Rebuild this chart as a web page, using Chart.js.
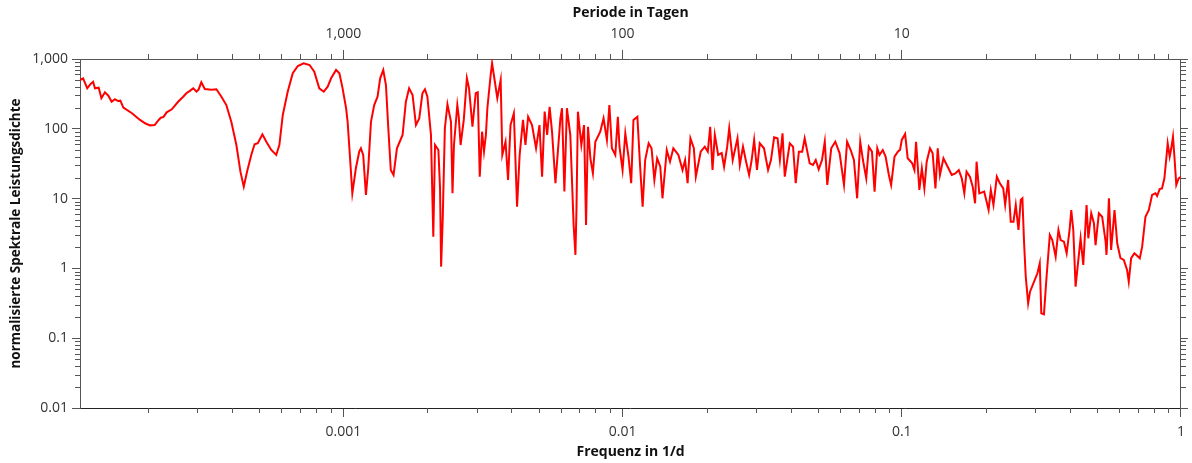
<!DOCTYPE html>
<html>
<head>
<meta charset="utf-8">
<script src="https://cdn.jsdelivr.net/npm/chart.js@4"></script>
<style>
  html, body { margin: 0; padding: 0; background: #fff; }
  #wrap { width: 1192px; height: 463px; }
</style>
</head>
<body>
<div id="wrap"><canvas id="spectrum" width="1192" height="463"></canvas></div>
<script>
// frequency in 1/d
const frequency = [
  1.14e-4, 1.17e-4, 1.21e-4, 1.24e-4, 1.27e-4, 1.29e-4, 1.33e-4, 1.36e-4, 1.40e-4, 1.44e-4,
  1.48e-4, 1.52e-4, 1.56e-4, 1.59e-4, 1.63e-4, 1.75e-4, 1.87e-4, 1.95e-4, 2.03e-4, 2.11e-4,
  2.17e-4, 2.22e-4, 2.27e-4, 2.33e-4, 2.43e-4, 2.56e-4, 2.67e-4, 2.74e-4, 2.82e-4, 2.90e-4,
  2.98e-4, 3.03e-4, 3.10e-4, 3.19e-4, 3.37e-4, 3.51e-4, 3.66e-4, 3.81e-4, 3.97e-4, 4.14e-4,
  4.28e-4, 4.40e-4, 4.52e-4, 4.68e-4, 4.81e-4, 4.94e-4, 5.13e-4, 5.30e-4, 5.52e-4, 5.75e-4,
  5.90e-4, 6.07e-4, 6.32e-4, 6.59e-4, 6.87e-4, 7.21e-4, 7.57e-4, 7.87e-4, 8.20e-4, 8.51e-4,
  8.79e-4, 9.04e-4, 9.42e-4, 9.68e-4, 9.94e-4, 1.023e-3, 1.036e-3, 1.059e-3, 1.077e-3, 1.109e-3,
  1.14e-3, 1.156e-3, 1.178e-3, 1.205e-3, 1.228e-3, 1.256e-3, 1.29e-3, 1.326e-3, 1.355e-3, 1.39e-3,
  1.421e-3, 1.449e-3, 1.479e-3, 1.513e-3, 1.556e-3, 1.63e-3, 1.675e-3, 1.72e-3, 1.77e-3, 1.82e-3,
  1.87e-3, 1.92e-3, 1.96e-3, 2.0e-3, 2.06e-3, 2.08e-3, 2.10e-3, 2.13e-3, 2.19e-3, 2.22e-3,
  2.24e-3, 2.27e-3, 2.31e-3, 2.36e-3, 2.43e-3, 2.46e-3, 2.49e-3, 2.56e-3, 2.59e-3, 2.63e-3,
  2.70e-3, 2.77e-3, 2.82e-3, 2.90e-3, 2.98e-3, 3.03e-3, 3.08e-3, 3.14e-3, 3.19e-3, 3.24e-3,
  3.28e-3, 3.37e-3, 3.41e-3, 3.46e-3, 3.56e-3, 3.66e-3, 3.71e-3, 3.81e-3, 3.89e-3, 3.97e-3,
  4.08e-3, 4.19e-3, 4.28e-3, 4.40e-3, 4.49e-3, 4.59e-3, 4.74e-3, 4.90e-3, 5.04e-3, 5.15e-3,
  5.26e-3, 5.37e-3, 5.48e-3, 5.59e-3, 5.75e-3, 5.99e-3, 6.07e-3, 6.19e-3, 6.32e-3, 6.50e-3,
  6.68e-3, 6.78e-3, 6.84e-3, 6.92e-3, 7.12e-3, 7.28e-3, 7.40e-3, 7.52e-3, 7.67e-3, 7.83e-3,
  7.99e-3, 8.32e-3, 8.55e-3, 8.79e-3, 8.97e-3, 9.16e-3, 9.42e-3, 9.62e-3, 9.75e-3, 1.0e-2,
  1.023e-2, 1.05e-2, 1.074e-2, 1.094e-2, 1.13e-2, 1.156e-2, 1.18e-2, 1.205e-2, 1.24e-2, 1.27e-2,
  1.30e-2, 1.33e-2, 1.365e-2, 1.39e-2, 1.44e-2, 1.479e-2, 1.52e-2, 1.585e-2, 1.64e-2, 1.675e-2,
  1.71e-2, 1.75e-2, 1.80e-2, 1.83e-2, 1.905e-2, 1.97e-2, 2.02e-2, 2.06e-2, 2.10e-2, 2.14e-2,
  2.20e-2, 2.265e-2, 2.31e-2, 2.37e-2, 2.41e-2, 2.48e-2, 2.58e-2, 2.63e-2, 2.70e-2, 2.77e-2,
  2.84e-2, 2.90e-2, 2.96e-2, 3.03e-2, 3.10e-2, 3.21e-2, 3.32e-2, 3.40e-2, 3.49e-2, 3.59e-2,
  3.66e-2, 3.74e-2, 3.81e-2, 3.97e-2, 4.08e-2, 4.17e-2, 4.28e-2, 4.40e-2, 4.49e-2, 4.68e-2,
  4.81e-2, 4.92e-2, 5.04e-2, 5.18e-2, 5.30e-2, 5.41e-2, 5.59e-2, 5.78e-2, 5.99e-2, 6.21e-2,
  6.37e-2, 6.56e-2, 6.74e-2, 6.92e-2, 7.10e-2, 7.26e-2, 7.46e-2, 7.62e-2, 7.82e-2, 7.99e-2,
  8.17e-2, 8.32e-2, 8.55e-2, 8.75e-2, 8.99e-2, 9.16e-2, 9.42e-2, 9.68e-2, 9.86e-2, 0.100,
  0.1028, 0.105, 0.109, 0.111, 0.1125, 0.114, 0.1156, 0.118, 0.1205, 0.1228,
  0.1262, 0.129, 0.132, 0.1345, 0.137, 0.141, 0.146, 0.151, 0.1556, 0.160,
  0.164, 0.1675, 0.1706, 0.1754, 0.1795, 0.183, 0.1853, 0.1895, 0.1973, 0.2046,
  0.2084, 0.213, 0.219, 0.2245, 0.2309, 0.2346, 0.2404, 0.2456, 0.2512, 0.256,
  0.2618, 0.2667, 0.2704, 0.2742, 0.278, 0.2835, 0.288, 0.296, 0.306, 0.312,
  0.316, 0.323, 0.330, 0.339, 0.346, 0.3557, 0.364, 0.3707, 0.381, 0.3895,
  0.399, 0.4046, 0.4114, 0.4193, 0.4276, 0.4369, 0.4467, 0.459, 0.4656, 0.477,
  0.4877, 0.4943, 0.508, 0.522, 0.537, 0.541, 0.552, 0.562, 0.578, 0.591,
  0.607, 0.624, 0.641, 0.650, 0.663, 0.681, 0.712, 0.726, 0.746, 0.767,
  0.788, 0.810, 0.821, 0.839, 0.855, 0.872, 0.886, 0.896, 0.911, 0.923,
  0.936, 0.949, 0.962, 0.981, 1.0
];

// normalised spectral power density
const density = [
  500, 529, 380, 434, 473, 380, 388, 274, 333, 298,
  244, 265, 250, 253, 201, 167, 134, 120, 112, 113,
  131, 144, 148, 172, 190, 244, 288, 323, 350, 380,
  340, 363, 464, 372, 363, 368, 288, 219, 126, 58.6,
  24.3, 14.8, 24.3, 42.2, 60, 62, 83.4, 65.3, 49.7, 42.2,
  58.6, 158, 340, 624, 794, 868, 820, 658, 380, 340,
  401, 529, 696, 624, 380, 197, 126, 33.8, 11.9, 27.2,
  47, 52.6, 42.2, 11.3, 27.2, 126, 219, 288, 529, 696,
  424, 102, 25.7, 21.8, 52.6, 81.5, 244, 380, 305, 113,
  141, 323, 368, 288, 81.5, 14.8, 2.85, 58.6, 49.7, 14.0,
  1.06, 5.22, 102, 224, 126, 11.9, 58.6, 219, 149, 58.6,
  134, 529, 380, 107, 323, 333, 20.6, 90.9, 47, 81.5,
  197, 590, 868, 590, 274, 500, 42.2, 65.3, 18.5, 113,
  167, 7.66, 42.2, 134, 58.6, 149, 113, 52.6, 113, 20.6,
  176, 81.5, 207, 90.9, 16.6, 141, 197, 12.6, 197, 81.5,
  4.19, 1.56, 7.26, 176, 58.6, 113, 4.19, 107, 37.8, 23,
  65.3, 90.9, 141, 69.2, 219, 52.6, 42.2, 149, 55.4, 25.7,
  86.2, 39.8, 16.6, 134, 149, 28.6, 7.66, 35.7, 62, 52.6,
  18.5, 37.8, 28.6, 10.1, 49.7, 33.8, 52.6, 42.2, 25.7, 35.7,
  16.6, 73.1, 52.6, 20.6, 47, 55.4, 47, 107, 25.7, 81.5,
  42.2, 45, 28.6, 55.4, 102, 35.7, 73.1, 30.3, 55.4, 33.8,
  21.8, 35.7, 69.2, 25.7, 62, 52.6, 25.7, 35.7, 75.5, 73.1,
  35.7, 86.2, 20.6, 62, 55.4, 16.6, 47, 47, 73.1, 32,
  30.3, 35.7, 26.3, 35.7, 65.3, 15.7, 52.6, 65.3, 44.6, 15.7,
  65.3, 49.7, 35.7, 10.1, 65.3, 35.7, 19.5, 55.4, 47, 12.6,
  52.6, 42.2, 49.7, 40, 21.8, 15.7, 40, 47, 50, 69.2,
  84.3, 37.8, 32, 25.7, 65.3, 30.3, 13.3, 27.2, 14.0, 33.8,
  52.6, 44.6, 14.0, 52.6, 21.8, 37.8, 28.6, 21.8, 23, 25.7,
  19.5, 11.9, 24.3, 20.6, 14.8, 8.57, 33.8, 11.9, 12.6, 6.87,
  13.3, 8.10, 20.6, 16.6, 14.0, 8.10, 18.5, 4.67, 4.67, 8.10,
  3.55, 9.55, 10.1, 2.29, 0.760, 0.316, 0.464, 0.612, 0.851, 1.18,
  0.227, 0.22, 0.760, 3.01, 2.55, 1.47, 3.55, 2.55, 2.41, 1.65,
  3.55, 6.87, 3.55, 0.547, 1.18, 2.70, 1.12, 8.10, 2.70, 6.16,
  4.43, 2.16, 6.16, 5.5, 2.41, 1.56, 10.1, 1.84, 6.87, 2.29,
  1.40, 1.32, 0.95, 0.645, 1.40, 1.65, 1.40, 2.05, 5.5, 6.87,
  11.3, 11.9, 10.9, 13.7, 14.0, 19.5, 37.8, 62, 40, 52.6,
  77.1, 35.7, 15.7, 19.5, 20.6
];

const freqTicks = [0.001, 0.01, 0.1, 1];
const periodTicks = [0.001, 0.01, 0.1];   // 1000, 100, 10 days
const densityTicks = [0.01, 0.1, 1, 10, 100, 1000];

const fMin = 1.14e-4, fMax = 1;
const yMin = 0.01, yMax = 1000;

const axisColor = '#555';
const labelColor = '#333';
const family = "'Open Sans', 'Noto Sans', sans-serif";

// short ticks at 2..9 of every decade, drawn outside the frame
const minorTicks = {
  id: 'minorTicks',
  afterDraw(chart) {
    const ctx = chart.ctx;
    ctx.save();
    ctx.strokeStyle = axisColor;
    ctx.lineWidth = 1;
    ['x', 'x2', 'y', 'y2'].forEach(id => {
      const s = chart.scales[id];
      const e0 = Math.floor(Math.log10(s.min));
      const e1 = Math.ceil(Math.log10(s.max));
      for (let e = e0; e < e1; e++) {
        for (let m = 2; m <= 9; m++) {
          const v = m * Math.pow(10, e);
          if (v <= s.min || v >= s.max) continue;
          const p = Math.round(s.getPixelForValue(v)) + 0.5;
          ctx.beginPath();
          if (s.position === 'bottom') { ctx.moveTo(p, s.top); ctx.lineTo(p, s.top + 5); }
          else if (s.position === 'top') { ctx.moveTo(p, s.bottom); ctx.lineTo(p, s.bottom - 5); }
          else if (s.position === 'left') { ctx.moveTo(s.right, p); ctx.lineTo(s.right - 5, p); }
          else { ctx.moveTo(s.left, p); ctx.lineTo(s.left + 5, p); }
          ctx.stroke();
        }
      }
    });
    ctx.restore();
  }
};

const fmt = v => Number(v).toLocaleString('en-US', { maximumFractionDigits: 4 });

new Chart(document.getElementById('spectrum'), {
  type: 'line',
  data: {
    datasets: [{
      data: frequency.map((f, i) => ({ x: f, y: density[i] })),
      borderColor: '#ff0000',
      borderWidth: 2,
      pointRadius: 0,
      tension: 0,
      xAxisID: 'x',
      yAxisID: 'y'
    }]
  },
  options: {
    responsive: false,
    animation: false,
    devicePixelRatio: 1,
    layout: { padding: 0 },
    plugins: { legend: { display: false }, tooltip: { enabled: false } },
    scales: {
      x: {
        type: 'logarithmic',
        position: 'bottom',
        min: fMin, max: fMax,
        afterBuildTicks: s => { s.ticks = freqTicks.map(v => ({ value: v })); },
        afterFit: s => { s.height = 55; },
        grid: { drawOnChartArea: false, tickLength: 9, tickColor: axisColor },
        border: { color: '#222', width: 1 },
        ticks: {
          padding: 7, color: labelColor, maxRotation: 0, autoSkip: false,
          font: { family, size: 14 },
          callback: v => fmt(v)
        },
        title: {
          display: true, text: 'Frequenz in 1/d', color: '#111',
          font: { family, size: 14, weight: 'bold' },
          padding: { top: 0, bottom: 3 }
        }
      },
      x2: {
        type: 'logarithmic',
        position: 'top',
        min: fMin, max: fMax,
        afterBuildTicks: s => { s.ticks = periodTicks.map(v => ({ value: v })); },
        afterFit: s => { s.height = 59; },
        grid: { drawOnChartArea: false, tickLength: 9, tickColor: axisColor },
        border: { color: axisColor, width: 1 },
        ticks: {
          padding: 8, color: labelColor, maxRotation: 0, autoSkip: false,
          font: { family, size: 14 },
          callback: v => fmt(Math.round(1 / v))
        },
        title: {
          display: true, text: 'Periode in Tagen', color: '#111',
          font: { family, size: 14, weight: 'bold' },
          padding: { top: 5, bottom: 0 }
        }
      },
      y: {
        type: 'logarithmic',
        position: 'left',
        min: yMin, max: yMax,
        afterBuildTicks: s => { s.ticks = densityTicks.map(v => ({ value: v })); },
        afterFit: s => { s.width = 80; },
        grid: { drawOnChartArea: false, tickLength: 8, tickColor: axisColor },
        border: { color: axisColor, width: 1 },
        ticks: {
          padding: 4, color: labelColor, autoSkip: false,
          font: { family, size: 14 },
          callback: v => fmt(v)
        },
        title: {
          display: true, text: 'normalisierte Spektrale Leistungsdichte', color: '#111',
          font: { family, size: 13.5, weight: 'bold' },
          padding: { top: 8, bottom: 0 }
        }
      },
      y2: {
        type: 'logarithmic',
        position: 'right',
        min: yMin, max: yMax,
        afterBuildTicks: s => { s.ticks = densityTicks.map(v => ({ value: v })); },
        afterFit: s => { s.width = 9; },
        grid: { drawOnChartArea: false, tickLength: 7, tickColor: axisColor },
        border: { color: axisColor, width: 1 },
        ticks: { display: false }
      }
    }
  },
  plugins: [minorTicks]
});
</script>
</body>
</html>
